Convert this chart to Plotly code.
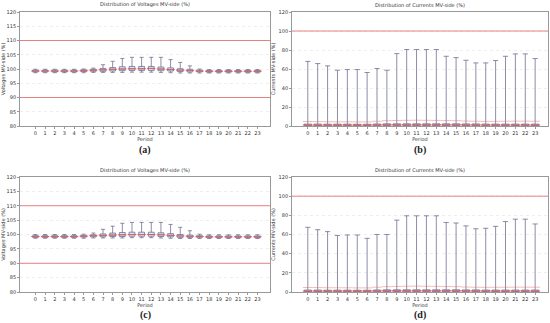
import plotly.graph_objects as go

periods = list(range(24))

# Voltages MV-side (%) - panel (a)
va_low = [98.7, 98.7, 98.7, 98.7, 98.7, 98.7, 98.8, 98.8, 98.8, 98.8, 98.9, 98.9, 98.9, 98.8, 98.7, 98.6, 98.6, 98.6, 98.6, 98.6, 98.6, 98.6, 98.6, 98.6]
va_q1 = [99.0, 99.0, 99.0, 99.0, 99.0, 99.1, 99.2, 99.2, 99.3, 99.4, 99.5, 99.5, 99.5, 99.4, 99.3, 99.1, 99.0, 99.0, 98.9, 98.9, 98.9, 98.9, 98.9, 98.9]
va_med = [99.3, 99.3, 99.3, 99.3, 99.3, 99.4, 99.6, 99.7, 99.9, 100.0, 100.1, 100.1, 100.2, 100.0, 99.8, 99.6, 99.5, 99.3, 99.2, 99.2, 99.2, 99.2, 99.2, 99.2]
va_q3 = [99.6, 99.6, 99.6, 99.6, 99.6, 99.7, 99.9, 100.2, 100.5, 100.8, 100.9, 100.9, 100.9, 100.7, 100.4, 100.1, 99.9, 99.6, 99.5, 99.5, 99.5, 99.5, 99.5, 99.5]
va_high = [99.9, 99.9, 99.9, 99.9, 99.9, 100.0, 100.3, 101.5, 102.7, 103.7, 104.1, 104.1, 104.1, 104.1, 103.3, 102.3, 101.1, 100.0, 99.8, 99.8, 99.8, 99.8, 99.8, 99.8]

# Voltages MV-side (%) - panel (c)
vc_low = [98.7, 98.7, 98.7, 98.7, 98.7, 98.7, 98.8, 98.8, 98.8, 98.8, 98.9, 98.9, 98.9, 98.8, 98.7, 98.6, 98.6, 98.6, 98.6, 98.6, 98.6, 98.6, 98.6, 98.6]
vc_q1 = [99.0, 99.0, 99.0, 99.0, 99.0, 99.1, 99.2, 99.2, 99.3, 99.3, 99.4, 99.4, 99.4, 99.3, 99.2, 99.0, 99.0, 99.0, 98.9, 98.9, 98.9, 98.9, 98.9, 98.9]
vc_med = [99.3, 99.3, 99.3, 99.3, 99.3, 99.4, 99.6, 99.7, 99.8, 99.9, 100.0, 100.0, 100.0, 99.9, 99.7, 99.5, 99.4, 99.3, 99.2, 99.2, 99.2, 99.2, 99.2, 99.2]
vc_q3 = [99.6, 99.6, 99.6, 99.6, 99.6, 99.7, 99.9, 100.2, 100.5, 100.7, 100.8, 100.8, 100.8, 100.6, 100.3, 100.0, 99.8, 99.6, 99.5, 99.5, 99.5, 99.5, 99.5, 99.5]
vc_high = [100.0, 100.0, 100.0, 100.0, 100.0, 100.1, 100.5, 101.8, 102.9, 103.9, 104.2, 104.2, 104.2, 104.2, 103.5, 102.5, 101.3, 100.1, 99.9, 99.9, 99.9, 99.9, 99.9, 99.9]

# Currents MV-side (%) - panel (b)
ib_low = [0.0] * 24
ib_q1 = [0.3] * 24
ib_med = [1.0, 1.0, 1.0, 1.0, 1.0, 1.0, 1.0, 1.1, 1.2, 1.2, 1.2, 1.2, 1.2, 1.2, 1.2, 1.2, 1.1, 1.1, 1.0, 1.0, 1.0, 1.0, 1.0, 1.0]
ib_q3 = [2.0, 2.0, 1.9, 1.9, 1.9, 1.8, 1.8, 2.1, 2.3, 2.3, 2.3, 2.3, 2.3, 2.3, 2.3, 2.3, 2.2, 2.2, 2.0, 2.0, 2.0, 2.0, 2.0, 2.0]
ib_high = [68.0, 65.7, 63.3, 58.7, 59.4, 59.4, 56.3, 60.5, 58.7, 76.2, 80.5, 80.5, 80.5, 80.5, 73.4, 72.0, 69.2, 66.4, 66.4, 68.9, 73.4, 75.9, 75.9, 71.0]
ib_mean = [4.7, 4.6, 4.5, 4.4, 4.4, 4.3, 4.3, 5.0, 5.6, 5.8, 6.0, 6.1, 6.0, 5.9, 5.7, 5.6, 5.2, 5.0, 4.9, 4.9, 5.0, 5.1, 5.1, 5.0]

# Currents MV-side (%) - panel (d)
id_low = [0.0] * 24
id_q1 = [0.3] * 24
id_med = [1.0, 1.0, 1.0, 1.0, 1.0, 1.0, 1.0, 1.1, 1.2, 1.2, 1.2, 1.2, 1.2, 1.2, 1.2, 1.2, 1.1, 1.1, 1.0, 1.0, 1.0, 1.0, 1.0, 1.0]
id_q3 = [2.0, 2.0, 1.9, 1.9, 1.9, 1.8, 1.8, 2.1, 2.3, 2.3, 2.3, 2.3, 2.3, 2.3, 2.3, 2.3, 2.2, 2.2, 2.0, 2.0, 2.0, 2.0, 2.0, 2.0]
id_high = [67.5, 65.0, 63.0, 59.0, 59.5, 59.5, 56.0, 60.0, 60.0, 75.0, 79.5, 79.5, 79.5, 79.5, 72.5, 72.0, 69.0, 66.0, 66.5, 68.5, 73.5, 76.0, 76.0, 71.0]
id_mean = [4.7, 4.6, 4.5, 4.4, 4.4, 4.3, 4.3, 5.0, 5.6, 5.8, 6.0, 6.1, 6.0, 5.9, 5.7, 5.6, 5.2, 5.0, 4.9, 4.9, 5.0, 5.1, 5.1, 5.0]

volt_limits = [90, 110]
curr_limits = [100]
volt_ticks = [80, 85, 90, 95, 100, 105, 110, 115, 120]
curr_ticks = [0, 20, 40, 60, 80, 100, 120]

titles = ["Distribution of Voltages MV-side (%)", "Distribution of Currents MV-side (%)",
          "Distribution of Voltages MV-side (%)", "Distribution of Currents MV-side (%)"]
ytitles = ["Voltages MV-side (%)", "Currents MV-side (%)", "Voltages MV-side (%)", "Currents MV-side (%)"]
captions = ["(a)", "(b)", "(c)", "(d)"]

W, H = 550, 323
# panel pixel boxes: left, right, top, bottom
panels = [(20, 270, 12, 126), (292, 548, 12, 126), (20, 270, 177, 292), (292, 548, 177, 292)]
cap_y = [150, 150, 315, 315]

fig = go.Figure()
BOX_LINE = "#707090"
BOX_FILL = "rgba(170,170,215,0.35)"
RED = "#e06060"

datasets = [
    (va_low, va_q1, va_med, va_q3, va_high, None, volt_limits, volt_ticks, [80, 120]),
    (ib_low, ib_q1, ib_med, ib_q3, ib_high, ib_mean, curr_limits, curr_ticks, [0, 120]),
    (vc_low, vc_q1, vc_med, vc_q3, vc_high, None, volt_limits, volt_ticks, [80, 120]),
    (id_low, id_q1, id_med, id_q3, id_high, id_mean, curr_limits, curr_ticks, [0, 120]),
]

tickfont = dict(family="DejaVu Sans", size=5, color="#333")
layout = dict(width=W, height=H, margin=dict(l=0, r=0, t=0, b=0, autoexpand=False),
              paper_bgcolor="white", plot_bgcolor="white", showlegend=False)
annotations = []
shapes = []

for i, (lo, q1, med, q3, hi, mean, lims, ticks, yr) in enumerate(datasets):
    n = i + 1
    xa = "x" if n == 1 else f"x{n}"
    ya = "y" if n == 1 else f"y{n}"
    l, r, t, b = panels[i]
    dom_x = [l / W, r / W]
    dom_y = [1 - b / H, 1 - t / H]
    layout["xaxis" if n == 1 else f"xaxis{n}"] = dict(
        domain=dom_x, anchor=ya, range=[-1.6, 24.3], tickmode="array", tickvals=periods,
        ticktext=[str(p) for p in periods], tickfont=tickfont, showgrid=False, zeroline=False,
        showline=True, linecolor="#999", linewidth=0.8, mirror=True, ticks="outside", ticklen=2,
        tickcolor="#999", automargin=False,
        title=dict(text="Period", font=dict(family="DejaVu Sans", size=5, color="#333"), standoff=0))
    layout["yaxis" if n == 1 else f"yaxis{n}"] = dict(
        domain=dom_y, anchor=xa, range=yr, tickmode="array", tickvals=ticks, tickfont=tickfont,
        showgrid=True, gridcolor="#eeeeee", griddash="dot", gridwidth=0.6, zeroline=False,
        showline=True, linecolor="#999", linewidth=0.8, mirror=True, ticks="outside", ticklen=2,
        tickcolor="#999", automargin=False,
        title=dict(text=ytitles[i], font=dict(family="DejaVu Sans", size=5, color="#333"), standoff=2))

    bw = 0.6 if i % 2 == 0 else 0.75
    fig.add_trace(go.Box(x=periods, q1=q1, median=med, q3=q3, lowerfence=lo, upperfence=hi,
                         xaxis=xa, yaxis=ya, width=bw, whiskerwidth=0.7,
                         line=dict(color=BOX_LINE, width=0.8), fillcolor=BOX_FILL, boxpoints=False))
    fig.add_trace(go.Scatter(x=periods, y=med, mode="markers", xaxis=xa, yaxis=ya,
                             marker=dict(symbol="line-ew", size=6 if i % 2 == 0 else 7,
                                         line=dict(color=RED, width=1)), hoverinfo="skip"))
    if mean is not None:
        fig.add_trace(go.Scatter(x=periods, y=mean, mode="markers", xaxis=xa, yaxis=ya,
                                 marker=dict(symbol="line-ew", size=7,
                                             line=dict(color="rgba(230,110,110,0.6)", width=0.8)),
                                 hoverinfo="skip"))
    for lim in lims:
        shapes.append(dict(type="line", xref=f"{xa} domain", yref=ya, x0=0, x1=1, y0=lim, y1=lim,
                           line=dict(color="#e88080", width=1), layer="above"))
    cx = (l + r) / 2 / W
    annotations.append(dict(text=titles[i], x=cx, y=1 - (t - 7) / H, xref="paper", yref="paper",
                            showarrow=False, font=dict(family="DejaVu Sans", size=5, color="#333"),
                            xanchor="center", yanchor="middle"))
    annotations.append(dict(text="<b>" + captions[i] + "</b>", x=cx, y=1 - cap_y[i] / H,
                            xref="paper", yref="paper", showarrow=False,
                            font=dict(family="Liberation Serif", size=10, color="#222"),
                            xanchor="center", yanchor="middle"))

layout["annotations"] = annotations
layout["shapes"] = shapes
fig.update_layout(**layout)
fig.write_html("out.html", config={"displayModeBar": False},
               post_script="document.body.style.margin='0';document.body.style.overflow='hidden';")
